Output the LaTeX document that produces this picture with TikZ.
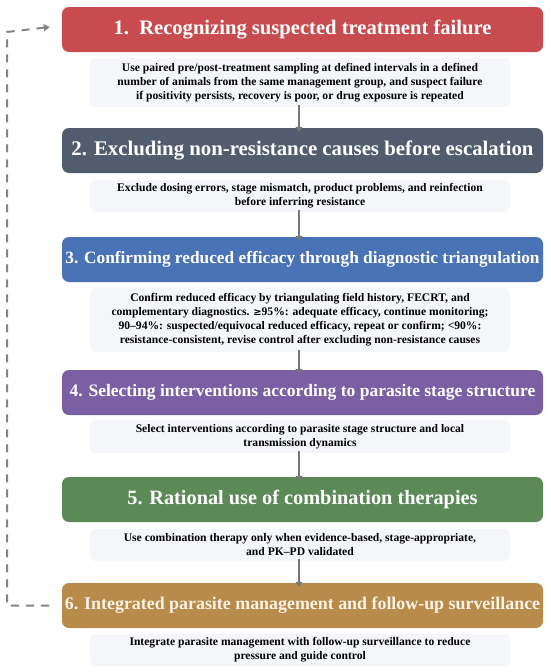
\documentclass[tikz,border=0pt]{standalone}
\usepackage{fontspec}
\setmainfont{Liberation Serif}
\usetikzlibrary{arrows.meta}
\definecolor{cA}{HTML}{C84C4F}
\definecolor{cB}{HTML}{525C6F}
\definecolor{cC}{HTML}{4A72B6}
\definecolor{cD}{HTML}{7A5FA4}
\definecolor{cE}{HTML}{5B8A56}
\definecolor{cF}{HTML}{B88B4B}
\definecolor{descbg}{HTML}{F4F6FA}
\definecolor{arrowgray}{HTML}{777777}
\definecolor{loopgray}{HTML}{858585}
\definecolor{creamtxt}{HTML}{FAF3E6}
\tikzset{
  header/.style={rounded corners=7pt, minimum width=481pt, minimum height=45pt, inner sep=0pt, text=white, font=\bfseries},
  descbox/.style={rounded corners=6pt, fill=descbg, minimum width=420pt, inner sep=0pt, align=center, font=\bfseries\fontsize{11.6}{14}\selectfont},
  downarrow/.style={draw=arrowgray, line width=1.6pt, -{Triangle[length=5pt,width=7pt]}},
  loopline/.style={draw=loopgray, line width=2pt, dash pattern=on 8pt off 7pt, -{Triangle[length=6pt,width=7pt]}}
}
\begin{document}
\begin{tikzpicture}[x=1pt,y=-1pt]
\useasboundingbox (0,0) rectangle (550,672);
\fill[white] (0,0) rectangle (550,672);
% headers
\node[header, fill=cA] (H1) at (302.5,29.5) {\fontsize{20.6}{24}\selectfont 1.\ \ Recognizing suspected treatment failure};
\node[header, fill=cB] (H2) at (302.5,150.5) {\fontsize{20.8}{24}\selectfont 2. Excluding non-resistance causes before escalation};
\node[header, fill=cC] (H3) at (302.5,259.5) {\fontsize{17.3}{20}\selectfont 3. Confirming reduced efficacy through diagnostic triangulation};
\node[header, fill=cD] (H4) at (302.5,392.5) {\fontsize{17.5}{20}\selectfont 4. Selecting interventions according to parasite stage structure};
\node[header, fill=cE] (H5) at (302.5,499.5) {\fontsize{20.3}{24}\selectfont 5. Rational use of combination therapies};
\node[header, fill=cF, text=creamtxt] (H6) at (302.5,605.5) {\fontsize{17.9}{20}\selectfont 6. Integrated parasite management and follow-up surveillance};
% descriptions
\node[descbox, minimum height=49pt] (D1) at (300,82.5) {Use paired pre/post-treatment sampling at defined intervals in a defined\\number of animals from the same management group, and suspect failure\\if positivity persists, recovery is poor, or drug exposure is repeated};
\node[descbox, minimum height=32pt] (D2) at (300,196) {Exclude dosing errors, stage mismatch, product problems, and reinfection\\before inferring resistance};
\node[descbox, minimum height=64pt] (D3) at (300,320) {Confirm reduced efficacy by triangulating field history, FECRT, and\\complementary diagnostics. {\fontspec{DejaVu Serif}\fontsize{10}{14}\selectfont ≥}95\%: adequate efficacy, continue monitoring;\\90–94\%: suspected/equivocal reduced efficacy, repeat or confirm; <90\%:\\resistance-consistent, revise control after excluding non-resistance causes};
\node[descbox, minimum height=33pt] (D4) at (300,436.5) {Select interventions according to parasite stage structure and local\\transmission dynamics};
\node[descbox, minimum height=32pt] (D5) at (300,545) {Use combination therapy only when evidence-based, stage-appropriate,\\and PK–PD validated};
\node[descbox, minimum height=32pt] (D6) at (300,650) {Integrate parasite management with follow-up surveillance to reduce\\pressure and guide control};
% down arrows
\draw[downarrow] ([yshift=2pt]D1.south -| 299,0) -- ([yshift=-4pt]H2.north -| 299,0);
\draw[downarrow] ([yshift=2pt]D2.south -| 299,0) -- ([yshift=-4pt]H3.north -| 299,0);
\draw[downarrow] ([yshift=2pt]D3.south -| 299,0) -- ([yshift=-4pt]H4.north -| 299,0);
\draw[downarrow] ([yshift=2pt]D4.south -| 299,0) -- ([yshift=-4pt]H5.north -| 299,0);
\draw[downarrow] ([yshift=2pt]D5.south -| 299,0) -- ([yshift=-4pt]H6.north -| 299,0);
% feedback loop
\coordinate (loopcorner) at (7,32);
\draw[loopline] ([xshift=-13pt]H6.west) -| (loopcorner) -- ([xshift=-12pt,yshift=2.5pt]H1.west);
\end{tikzpicture}
\end{document}
